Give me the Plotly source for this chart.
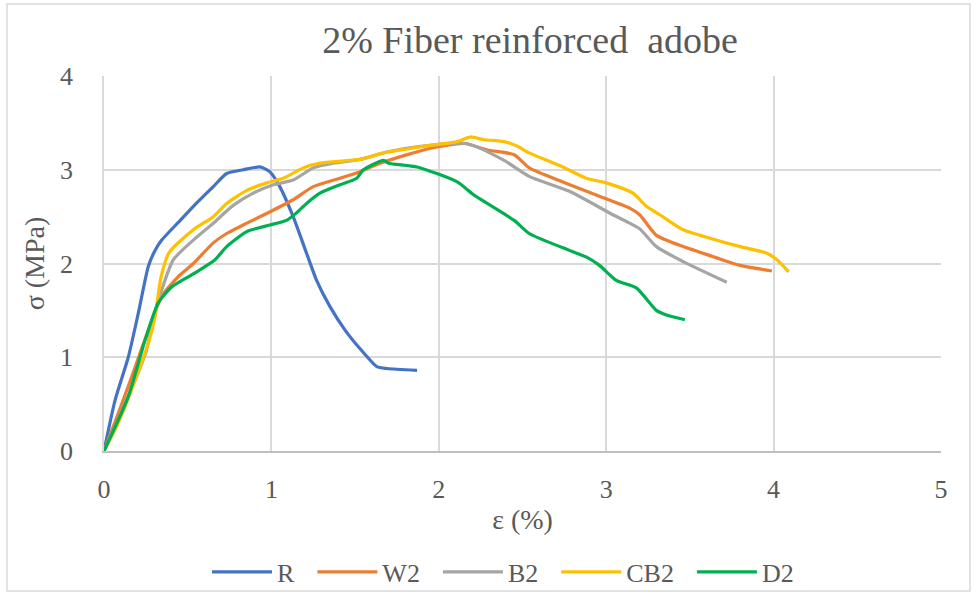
import plotly.graph_objects as go

# ---- data ----
series_names = ["R", "W2", "B2", "CB2", "D2"]
series_colors = ["#4472C4", "#ED7D31", "#A5A5A5", "#FFC000", "#00B050"]

r_x = [0, 0.066, 0.145, 0.205, 0.265, 0.305, 0.345, 0.45, 0.534, 0.653, 0.733, 0.832, 0.932, 0.99, 1.05, 1.13, 1.21, 1.27, 1.35, 1.44, 1.53, 1.63, 1.69, 1.87]
r_y = [0, 0.54, 1.0, 1.47, 1.97, 2.14, 2.25, 2.45, 2.61, 2.82, 2.96, 3.0, 3.03, 2.98, 2.82, 2.50, 2.11, 1.82, 1.54, 1.29, 1.09, 0.90, 0.88, 0.86]

w2_x = [0, 0.07, 0.145, 0.265, 0.345, 0.444, 0.534, 0.653, 0.733, 0.853, 0.99, 1.13, 1.25, 1.41, 1.53, 1.65, 1.95, 2.15, 2.29, 2.45, 2.54, 2.74, 2.94, 3.14, 3.20, 3.30, 3.46, 3.66, 3.80, 3.99]
w2_y = [0, 0.33, 0.69, 1.29, 1.65, 1.86, 2.0, 2.22, 2.32, 2.43, 2.55, 2.68, 2.82, 2.91, 2.98, 3.07, 3.23, 3.28, 3.21, 3.16, 3.02, 2.87, 2.73, 2.59, 2.52, 2.30, 2.18, 2.06, 1.98, 1.92]

b2_x = [0, 0.1, 0.2, 0.25, 0.3, 0.345, 0.414, 0.534, 0.653, 0.772, 0.892, 1.011, 1.13, 1.25, 1.37, 1.53, 1.69, 1.89, 2.17, 2.39, 2.54, 2.78, 3.04, 3.14, 3.20, 3.30, 3.46, 3.72]
b2_y = [0, 0.40, 0.82, 1.05, 1.45, 1.72, 2.04, 2.25, 2.43, 2.62, 2.75, 2.84, 2.89, 3.02, 3.07, 3.11, 3.19, 3.25, 3.28, 3.10, 2.93, 2.77, 2.52, 2.43, 2.37, 2.18, 2.02, 1.80]

cb2_x = [0, 0.08, 0.2, 0.27, 0.305, 0.34, 0.39, 0.534, 0.653, 0.733, 0.853, 0.972, 1.071, 1.19, 1.29, 1.53, 1.67, 1.95, 2.11, 2.19, 2.27, 2.39, 2.47, 2.54, 2.74, 2.88, 3.0, 3.16, 3.24, 3.32, 3.46, 3.62, 3.80, 3.96, 4.02, 4.09]
cb2_y = [0, 0.28, 0.82, 1.18, 1.43, 1.85, 2.12, 2.36, 2.50, 2.64, 2.78, 2.86, 2.91, 3.02, 3.07, 3.11, 3.18, 3.26, 3.30, 3.35, 3.32, 3.30, 3.25, 3.18, 3.03, 2.91, 2.86, 2.75, 2.61, 2.52, 2.36, 2.27, 2.18, 2.11, 2.04, 1.91]

d2_x = [0, 0.145, 0.245, 0.324, 0.404, 0.544, 0.663, 0.733, 0.853, 0.99, 1.09, 1.15, 1.21, 1.29, 1.41, 1.51, 1.55, 1.67, 1.70, 1.87, 2.11, 2.21, 2.45, 2.54, 2.78, 2.88, 2.96, 3.06, 3.18, 3.30, 3.36, 3.47]
d2_y = [0, 0.58, 1.18, 1.58, 1.75, 1.90, 2.04, 2.18, 2.34, 2.41, 2.46, 2.54, 2.64, 2.75, 2.84, 2.91, 3.0, 3.10, 3.07, 3.03, 2.87, 2.73, 2.46, 2.32, 2.14, 2.07, 1.98, 1.82, 1.74, 1.50, 1.45, 1.40]

x_ticks = [0, 1, 2, 3, 4, 5]
y_ticks = [0, 1, 2, 3, 4]
title_text = "2% Fiber reinforced&nbsp;&nbsp;adobe"
x_title = "ε (%)"
y_title = "σ (MPa)"

all_x = [r_x, w2_x, b2_x, cb2_x, d2_x]
all_y = [r_y, w2_y, b2_y, cb2_y, d2_y]

FONT = "Liberation Serif"
TXT = "#595959"
GAP = "\u00a0\u00a0"  # extra spacing between legend entries

fig = go.Figure()
for i, (name, color, xs, ys) in enumerate(zip(series_names, series_colors, all_x, all_y)):
    label = name + (GAP if i < len(series_names) - 1 else "")
    fig.add_trace(go.Scatter(
        x=xs, y=ys, name=label, mode="lines",
        line=dict(color=color, width=3.2, shape="spline", smoothing=0.6),
    ))

W, H = 978, 594
L, R, T, B = 104, 37, 76, 143
pw, ph = W - L - R, H - T - B

def px_to_paper_x(px):
    return (px - L) / pw

def px_to_paper_y(py):
    return (H - B - py) / ph

fig.update_layout(
    width=W, height=H,
    margin=dict(l=L, r=R, t=T, b=B, autoexpand=False),
    paper_bgcolor="white", plot_bgcolor="white",
    font=dict(family=FONT, color=TXT, size=26),
    title=dict(text=title_text, x=530 / W, xanchor="center",
               y=1 - 40 / H, yanchor="middle",
               font=dict(family=FONT, size=38, color=TXT)),
    xaxis=dict(range=[0, 5], tickvals=x_ticks, ticktext=[str(v) for v in x_ticks],
               showgrid=True, gridcolor="#D9D9D9", gridwidth=1.5,
               showline=True, linecolor="#BFBFBF", linewidth=1.5,
               zeroline=False, ticks="", ticklabelstandoff=14, automargin=False,
               tickfont=dict(family=FONT, size=26, color=TXT),
               title=dict(text=x_title, standoff=6, font=dict(family=FONT, size=28, color=TXT))),
    yaxis=dict(range=[0, 4], tickvals=y_ticks, ticktext=[str(v) for v in y_ticks],
               showgrid=True, gridcolor="#D9D9D9", gridwidth=1.5,
               showline=True, linecolor="#D9D9D9", linewidth=1.5,
               zeroline=False, ticks="", ticklabelstandoff=24, automargin=False,
               tickfont=dict(family=FONT, size=26, color=TXT),
               title=dict(text=y_title, standoff=7, font=dict(family=FONT, size=28, color=TXT))),
    legend=dict(orientation="h", x=px_to_paper_x(503), xanchor="center",
                y=px_to_paper_y(572), yanchor="middle",
                font=dict(family=FONT, size=26, color=TXT), itemwidth=60,
                bgcolor="rgba(0,0,0,0)"),
    shapes=[dict(type="rect", xref="paper", yref="paper",
                 x0=px_to_paper_x(7), x1=px_to_paper_x(970),
                 y0=px_to_paper_y(591), y1=px_to_paper_y(4),
                 line=dict(color="#D9D9D9", width=1.5), fillcolor="rgba(0,0,0,0)",
                 layer="below")],
)

fig.write_html("out.html", config={"displayModeBar": False},
               post_script="document.body.style.margin='0';document.body.style.padding='0';")
